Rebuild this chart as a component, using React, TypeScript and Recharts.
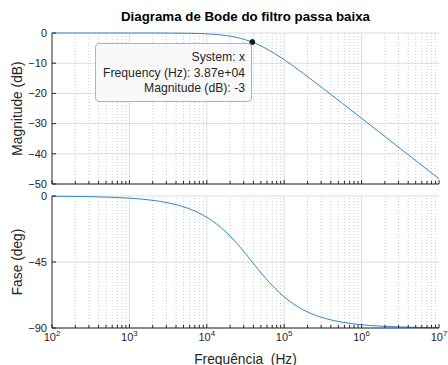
import React from 'react';
import { LineChart, Line, XAxis, YAxis, CartesianGrid, ReferenceLine, ReferenceDot } from 'recharts';

// Frequency samples (Hz)
const freqHz = [100, 178, 316, 562, 1000, 1778, 3162, 5623, 7499, 10000, 13335, 17783, 23714, 31623, 38700, 42170, 56234, 74989, 100000, 133352, 177828, 237137, 316228, 562341, 1000000, 1778279, 3162278, 5623413, 10000000];
// Magnitude (dB)
const magnitudeDb = [0, 0, 0, -0.001, -0.003, -0.009, -0.029, -0.09, -0.16, -0.28, -0.49, -0.83, -1.39, -2.22, -3.01, -3.4, -4.93, -6.77, -8.85, -11.1, -13.45, -15.86, -18.31, -23.27, -28.25, -33.25, -38.25, -43.25, -48.25];
// Phase (deg)
const phaseDeg = [-0.15, -0.26, -0.47, -0.83, -1.48, -2.63, -4.67, -8.27, -10.97, -14.49, -19.01, -24.68, -31.5, -39.25, -45, -47.46, -55.46, -62.7, -68.84, -73.81, -77.72, -80.73, -83.02, -86.06, -87.78, -88.75, -89.3, -89.61, -89.78];

// Axis ticks
const majorX = [100, 1000, 10000, 100000, 1000000, 10000000];
const majorXExp = ['2', '3', '4', '5', '6', '7'];
const minorMantissa = [2, 3, 4, 5, 6, 7, 8, 9];
const minorX = majorX.slice(0, 5).flatMap((d) => minorMantissa.map((m) => m * d));
const allX = [...majorX, ...minorX].sort((a, b) => a - b);
const magTicks = [-50, -40, -30, -20, -10, 0];
const phaseTicks = [-90, -45, 0];

// Data tip
const tipSystem = 'x';
const tipFreq = 38700;
const tipFreqLabel = '3.87e+04';
const tipMag = -3;

const title = 'Diagrama de Bode do filtro passa baixa';
const magLabel = 'Magnitude (dB)';
const phaseLabel = 'Fase (deg)';
const xLabel = 'Frequência  (Hz)';

const data = freqHz.map((f, i) => ({ f, mag: magnitudeDb[i], phase: phaseDeg[i] }));

const AX = '#262626';
const LINE = '#2f87cf';
const FONT = '"Liberation Sans", Arial, Helvetica, sans-serif';
const TICK_FS = 11;
const LABEL_FS = 13.8;

const fmt = (v: number) => (v < 0 ? '\u2212' + Math.abs(v) : String(v));

function BottomTick(props: any) {
  const { x, y, payload, showLabels } = props;
  const v = payload.value;
  const mi = majorX.indexOf(v);
  const len = mi >= 0 ? 4 : 3;
  return (
    <g>
      <line x1={x} x2={x} y1={y} y2={y - len} stroke={AX} strokeWidth={1} />
      {showLabels && mi >= 0 && (
        <text x={x} y={y + 13} textAnchor="middle" fill={AX} fontSize={TICK_FS} fontFamily={FONT}>
          <tspan>10</tspan>
          <tspan dy={-5} fontSize={8}>{majorXExp[mi]}</tspan>
        </text>
      )}
    </g>
  );
}

function TopTick(props: any) {
  const { x, y, payload } = props;
  const len = majorX.indexOf(payload.value) >= 0 ? 4 : 3;
  return <line x1={x} x2={x} y1={y} y2={y + len} stroke={AX} strokeWidth={1} />;
}

function LeftTick(props: any) {
  const { x, y, payload } = props;
  return (
    <g>
      <line x1={x} x2={x + 4} y1={y} y2={y} stroke={AX} strokeWidth={1} />
      <text x={x - 5} y={y} dy="0.35em" textAnchor="end" fill={AX} fontSize={TICK_FS} fontFamily={FONT}>
        {fmt(payload.value)}
      </text>
    </g>
  );
}

function RightTick(props: any) {
  const { x, y } = props;
  return <line x1={x} x2={x - 4} y1={y} y2={y} stroke={AX} strokeWidth={1} />;
}

function yLabel(text: string, withTitle: boolean) {
  return {
    content: (p: any) => {
      const vb = p.viewBox || {};
      const cx = 17;
      const cy = (vb.y || 0) + (vb.height || 0) / 2;
      return (
        <g>
          <text x={cx} y={cy} transform={`rotate(-90 ${cx} ${cy})`} textAnchor="middle" dy="0.35em" fill={AX} fontSize={LABEL_FS} fontFamily={FONT}>
            {text}
          </text>
          {withTitle && (
            <text x={245.5} y={21} textAnchor="middle" fill="#000" fontSize={13.3} fontWeight="bold" fontFamily={FONT}>
              {title}
            </text>
          )}
        </g>
      );
    },
  };
}

function gridLines() {
  return [
    ...minorX.map((v) => (
      <ReferenceLine key={'mn' + v} x={v} stroke="#cccccc" strokeDasharray="1 2" strokeWidth={1} />
    )),
    ...majorX.slice(1, 5).map((v) => (
      <ReferenceLine key={'mj' + v} x={v} stroke="#dcdcdc" strokeWidth={1} />
    )),
  ];
}

export default function App() {
  return (
    <div style={{ position: 'absolute', left: 0, top: 0, width: 448, height: 365, background: '#ffffff', fontFamily: FONT, overflow: 'hidden' }}>
      <div style={{ position: 'absolute', left: 0, top: 0 }}>
        <LineChart width={448} height={190} data={data} margin={{ top: 33, right: 9, bottom: 0, left: 0 }}>
          <CartesianGrid vertical={false} stroke="#dcdcdc" />
          {gridLines()}
          <XAxis dataKey="f" type="number" scale="log" domain={[100, 10000000]} allowDataOverflow ticks={allX} interval={0} height={6} tickSize={0} tickMargin={0} tick={(p: any) => <BottomTick {...p} />} axisLine={{ stroke: AX }} />
          <XAxis xAxisId="top" orientation="top" dataKey="f" type="number" scale="log" domain={[100, 10000000]} allowDataOverflow ticks={allX} interval={0} height={0} tickSize={0} tickMargin={0} tick={(p: any) => <TopTick {...p} />} axisLine={{ stroke: AX }} />
          <YAxis type="number" domain={[-50, 0]} ticks={magTicks} interval={0} width={52} tickSize={0} tickMargin={0} tick={(p: any) => <LeftTick {...p} />} axisLine={{ stroke: AX }} label={yLabel(magLabel, true)} />
          <YAxis yAxisId="right" orientation="right" type="number" domain={[-50, 0]} ticks={magTicks} interval={0} width={0} tickSize={0} tickMargin={0} tick={(p: any) => <RightTick {...p} />} axisLine={{ stroke: AX }} />
          <Line type="monotone" dataKey="mag" stroke={LINE} strokeWidth={1} dot={false} isAnimationActive={false} />
          <ReferenceDot x={tipFreq} y={tipMag} r={2.5} fill="#1a1a1a" stroke="#1a1a1a" />
        </LineChart>
      </div>
      <div style={{ position: 'absolute', left: 0, top: 190 }}>
        <LineChart width={448} height={175} data={data} margin={{ top: 6, right: 9, bottom: 0, left: 0 }}>
          <CartesianGrid vertical={false} stroke="#dcdcdc" />
          {gridLines()}
          <XAxis dataKey="f" type="number" scale="log" domain={[100, 10000000]} allowDataOverflow ticks={allX} interval={0} height={37} tickSize={0} tickMargin={0} tick={(p: any) => <BottomTick {...p} showLabels />} axisLine={{ stroke: AX }}
            label={{
              content: (p: any) => {
                const vb = p.viewBox || {};
                return (
                  <text x={(vb.x || 0) + (vb.width || 0) / 2} y={174} textAnchor="middle" fill={AX} fontSize={LABEL_FS} fontFamily={FONT} xmlSpace="preserve" style={{ whiteSpace: 'pre' }}>
                    {xLabel}
                  </text>
                );
              },
            }}
          />
          <XAxis xAxisId="top" orientation="top" dataKey="f" type="number" scale="log" domain={[100, 10000000]} allowDataOverflow ticks={allX} interval={0} height={0} tickSize={0} tickMargin={0} tick={(p: any) => <TopTick {...p} />} axisLine={{ stroke: AX }} />
          <YAxis type="number" domain={[-90, 0]} ticks={phaseTicks} interval={0} width={52} tickSize={0} tickMargin={0} tick={(p: any) => <LeftTick {...p} />} axisLine={{ stroke: AX }} label={yLabel(phaseLabel, false)} />
          <YAxis yAxisId="right" orientation="right" type="number" domain={[-90, 0]} ticks={phaseTicks} interval={0} width={0} tickSize={0} tickMargin={0} tick={(p: any) => <RightTick {...p} />} axisLine={{ stroke: AX }} />
          <Line type="monotone" dataKey="phase" stroke={LINE} strokeWidth={1} dot={false} isAnimationActive={false} />
        </LineChart>
      </div>
      <div style={{ position: 'absolute', left: 95, top: 43, width: 157, height: 59, boxSizing: 'border-box', border: '1px solid #b4b4b4', borderRadius: 4, background: '#f9f9fb', padding: '6px 6px 0 0', textAlign: 'right', fontSize: 12.2, lineHeight: '15.5px', color: AX, fontFamily: FONT, whiteSpace: 'nowrap' }}>
        <div>System: {tipSystem}</div>
        <div>Frequency (Hz): {tipFreqLabel}</div>
        <div>Magnitude (dB): {tipMag}</div>
      </div>
    </div>
  );
}
